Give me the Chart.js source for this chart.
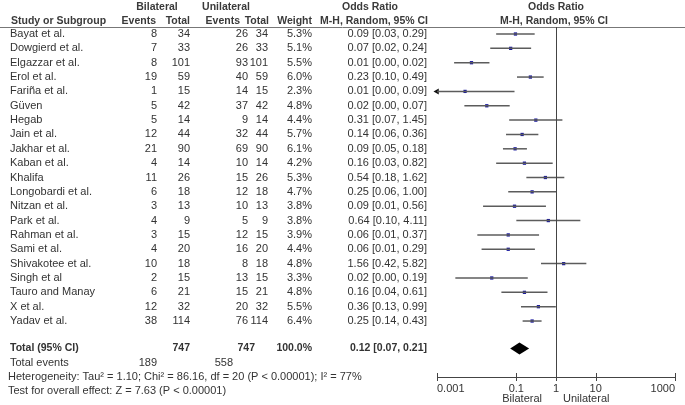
<!DOCTYPE html>
<html>
<head>
<meta charset="utf-8">
<title>Forest plot - Bilateral vs Unilateral</title>
<script src="https://cdn.jsdelivr.net/npm/chart.js"></script>
<style>
  html, body { margin: 0; padding: 0; background: #fff; }
  #wrap { width: 685px; height: 405px; position: relative; }
</style>
</head>
<body>
<div id="wrap"><canvas id="forest"></canvas></div>
<script>
// study rows
const studies = ['Bayat et al.', 'Dowgierd et al.', 'Elgazzar et al.', 'Erol et al.', 'Fariña et al.', 'Güven',
  'Hegab', 'Jain et al.', 'Jakhar et al.', 'Kaban et al.', 'Khalifa', 'Longobardi et al.', 'Nitzan et al.',
  'Park et al.', 'Rahman et al.', 'Sami et al.', 'Shivakotee et al.', 'Singh et al', 'Tauro and Manay',
  'X et al.', 'Yadav et al.'];
const bilEvents = [8, 7, 8, 19, 1, 5, 5, 12, 21, 4, 11, 6, 3, 4, 3, 4, 10, 2, 6, 12, 38];
const bilTotal = [34, 33, 101, 59, 15, 42, 14, 44, 90, 14, 26, 18, 13, 9, 15, 20, 18, 15, 21, 32, 114];
const uniEvents = [26, 26, 93, 40, 14, 37, 9, 32, 69, 10, 15, 12, 10, 5, 12, 16, 8, 13, 15, 20, 76];
const uniTotal = [34, 33, 101, 59, 15, 42, 14, 44, 90, 14, 26, 18, 13, 9, 15, 20, 18, 15, 21, 32, 114];
const weights = ['5.3%', '5.1%', '5.5%', '6.0%', '2.3%', '4.8%', '4.4%', '5.7%', '6.1%', '4.2%', '5.3%', '4.7%',
  '3.8%', '3.8%', '3.9%', '4.4%', '4.8%', '3.3%', '4.8%', '5.5%', '6.4%'];
const orLabels = ['0.09 [0.03, 0.29]', '0.07 [0.02, 0.24]', '0.01 [0.00, 0.02]', '0.23 [0.10, 0.49]',
  '0.01 [0.00, 0.09]', '0.02 [0.00, 0.07]', '0.31 [0.07, 1.45]', '0.14 [0.06, 0.36]', '0.09 [0.05, 0.18]',
  '0.16 [0.03, 0.82]', '0.54 [0.18, 1.62]', '0.25 [0.06, 1.00]', '0.09 [0.01, 0.56]', '0.64 [0.10, 4.11]',
  '0.06 [0.01, 0.37]', '0.06 [0.01, 0.29]', '1.56 [0.42, 5.82]', '0.02 [0.00, 0.19]', '0.16 [0.04, 0.61]',
  '0.36 [0.13, 0.99]', '0.25 [0.14, 0.43]'];

// plotted odds ratios (more precise than the rounded labels)
const orEst = [0.095, 0.072, 0.0074, 0.226, 0.0051, 0.018, 0.31, 0.14, 0.093, 0.16, 0.54, 0.25, 0.09, 0.64,
  0.0625, 0.0625, 1.56, 0.024, 0.16, 0.36, 0.25];
const ciLow = [0.031, 0.022, 0.0027, 0.104, 0.0003, 0.0049, 0.066, 0.055, 0.046, 0.031, 0.179, 0.0625, 0.0145,
  0.10, 0.0104, 0.0133, 0.419, 0.0029, 0.042, 0.131, 0.144];
const ciHigh = [0.29, 0.236, 0.021, 0.489, 0.09, 0.068, 1.45, 0.359, 0.185, 0.825, 1.62, 1.0, 0.558, 4.11,
  0.374, 0.294, 5.82, 0.194, 0.61, 0.99, 0.433];

// pooled result
const totalSummary = [0.12, 0.07, 0.21]; // estimate, low, high
const totalLabels = ['Total (95% CI)', '747', '747', '100.0%', '0.12 [0.07, 0.21]'];
const totalEvents = ['Total events', '189', '558'];
const footNotes = ['Heterogeneity: Tau\u00b2 = 1.10; Chi\u00b2 = 86.16, df = 20 (P < 0.00001); I\u00b2 = 77%',
  'Test for overall effect: Z = 7.63 (P < 0.00001)'];

// axis
const xTicks = [0.001, 0.1, 1, 10, 1000];
const tickLabels = ['0.001', '0.1', '1', '10', '1000'];
const sideLabels = ['Bilateral', 'Unilateral'];

const FONT = '"Liberation Sans", Arial, sans-serif';
const TXT = '#333';

// column anchors (px)
const col = { name: 10, bEv: 157, bTot: 190, uEv: 248, uTot: 268, wt: 312, orTxt: 427 };

function put(ctx, s, x, y, align, bold) {
  ctx.font = (bold ? 'bold 10.5px ' : '11px ') + FONT;
  ctx.textAlign = align;
  ctx.fillText(s, x, y);
}

const forestText = {
  id: 'forestText',
  afterDraw(chart) {
    const ctx = chart.ctx;
    const xs = chart.scales.x, ys = chart.scales.y;
    const area = chart.chartArea;
    const row = v => ys.getPixelForValue(v);
    const x1 = xs.getPixelForValue(1);

    ctx.save();
    ctx.textBaseline = 'middle';

    // header line
    ctx.strokeStyle = '#777';
    ctx.lineWidth = 1;
    ctx.beginPath();
    ctx.moveTo(0, area.top + 0.5);
    ctx.lineTo(chart.width, area.top + 0.5);
    ctx.stroke();

    // line of no effect
    ctx.strokeStyle = '#444';
    ctx.beginPath();
    ctx.moveTo(Math.round(x1) + 0.5, area.top);
    ctx.lineTo(Math.round(x1) + 0.5, area.bottom);
    ctx.stroke();

    // tick marks across the axis
    xTicks.forEach(v => {
      const px = Math.round(xs.getPixelForValue(v)) + 0.5;
      ctx.beginPath();
      ctx.moveTo(px, area.bottom - 4);
      ctx.lineTo(px, area.bottom + 4);
      ctx.stroke();
    });

    // pooled diamond
    const dy = row(21.92);
    ctx.fillStyle = '#000';
    ctx.beginPath();
    ctx.moveTo(xs.getPixelForValue(totalSummary[1]), dy);
    ctx.lineTo(xs.getPixelForValue(totalSummary[0]), dy - 6);
    ctx.lineTo(xs.getPixelForValue(totalSummary[2]), dy);
    ctx.lineTo(xs.getPixelForValue(totalSummary[0]), dy + 6);
    ctx.closePath();
    ctx.fill();

    ctx.fillStyle = '#3a3a3a';
    // headers
    const h1 = 7, h2 = 21.5;
    put(ctx, 'Bilateral', 157, h1, 'center', true);
    put(ctx, 'Unilateral', 226, h1, 'center', true);
    put(ctx, 'Odds Ratio', 370, h1, 'center', true);
    put(ctx, 'Odds Ratio', x1, h1, 'center', true);
    put(ctx, 'Study or Subgroup', col.name + 1, h2, 'left', true);
    put(ctx, 'Events', 156, h2, 'right', true);
    put(ctx, 'Total', 190, h2, 'right', true);
    put(ctx, 'Events', 240, h2, 'right', true);
    put(ctx, 'Total', 269, h2, 'right', true);
    put(ctx, 'Weight', 312, h2, 'right', true);
    put(ctx, 'M-H, Random, 95% CI', 428, h2, 'right', true);
    put(ctx, 'M-H, Random, 95% CI', x1 - 2, h2, 'center', true);

    ctx.fillStyle = TXT;
    studies.forEach((s, i) => {
      const y = row(i);
      put(ctx, s, col.name, y, 'left');
      put(ctx, String(bilEvents[i]), col.bEv, y, 'right');
      put(ctx, String(bilTotal[i]), col.bTot, y, 'right');
      put(ctx, String(uniEvents[i]), col.uEv, y, 'right');
      put(ctx, String(uniTotal[i]), col.uTot, y, 'right');
      put(ctx, weights[i], col.wt, y, 'right');
      put(ctx, orLabels[i], col.orTxt, y, 'right');
    });

    // total rows
    let y = row(21.92);
    put(ctx, totalLabels[0], col.name, y, 'left', true);
    put(ctx, totalLabels[1], col.bTot, y, 'right', true);
    put(ctx, totalLabels[2], 255, y, 'right', true);
    put(ctx, totalLabels[3], col.wt, y, 'right', true);
    put(ctx, totalLabels[4], col.orTxt, y, 'right', true);
    y = row(22.9);
    put(ctx, totalEvents[0], col.name, y, 'left');
    put(ctx, totalEvents[1], col.bEv, y, 'right');
    put(ctx, totalEvents[2], 233, y, 'right');
    put(ctx, footNotes[0], col.name - 2, row(23.88), 'left');
    put(ctx, footNotes[1], col.name - 2, row(24.86), 'left');

    // favours labels
    put(ctx, sideLabels[0], x1 - 14, 399, 'right');
    put(ctx, sideLabels[1], x1 + 7, 399, 'left');
    ctx.restore();
  }
};

const ciSets = studies.map((s, i) => ({
  label: s,
  data: [{ x: ciLow[i], y: i }, { x: ciHigh[i], y: i }],
  showLine: true,
  borderColor: '#5c5c5c',
  borderWidth: 1.5,
  pointRadius: 0
}));

const pointSet = {
  label: 'OR',
  data: orEst.map((v, i) => ({ x: v, y: i })),
  pointStyle: 'rect',
  pointRadius: 2.3,
  backgroundColor: '#14149c',
  borderWidth: 0
};

// arrow where the CI runs off the left of the axis
const arrowSet = {
  label: 'arrow',
  data: ciLow.map((v, i) => (v < xTicks[0] ? { x: xTicks[0], y: i } : null)).filter(Boolean),
  pointStyle: 'triangle',
  rotation: -90,
  pointRadius: 3.5,
  backgroundColor: '#111',
  borderWidth: 0,
  clip: false
};

new Chart(document.getElementById('forest'), {
  type: 'scatter',
  data: { datasets: [...ciSets, pointSet, arrowSet] },
  options: {
    responsive: true,
    maintainAspectRatio: false,
    animation: false,
    layout: { padding: { left: 437, right: 10, top: 27, bottom: 0 } },
    plugins: { legend: { display: false }, tooltip: { enabled: false } },
    scales: {
      x: {
        type: 'logarithmic',
        min: 0.001,
        max: 1000,
        afterBuildTicks: s => { s.ticks = xTicks.map(v => ({ value: v })); },
        afterFit: s => { s.height = 28; },
        grid: { display: false, drawTicks: false },
        border: { display: true, color: '#444', width: 1 },
        ticks: {
          align: 'inner',
          padding: 5,
          autoSkip: false,
          maxRotation: 0,
          color: TXT,
          font: { family: FONT, size: 11 },
          callback: (v, i) => tickLabels[i]
        }
      },
      y: {
        type: 'linear',
        display: false,
        reverse: true,
        min: -0.488,
        max: 23.9
      }
    }
  },
  plugins: [forestText]
});
</script>
</body>
</html>
